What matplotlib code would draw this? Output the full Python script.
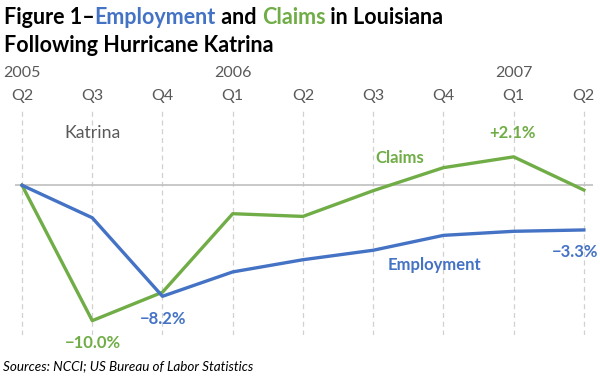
import matplotlib.pyplot as plt
import numpy as np

quarters = ["Q2", "Q3", "Q4", "Q1", "Q2", "Q3", "Q4", "Q1", "Q2"]
years = {0: "2005", 3: "2006", 7: "2007"}
employment = [0.0, -2.4, -8.2, -6.4, -5.5, -4.8, -3.7, -3.4, -3.3]
claims = [0.0, -10.0, -7.9, -2.1, -2.3, -0.4, 1.3, 2.1, -0.35]

BLUE = "#4472C4"
GREEN = "#70AD47"
GRAY = "#595959"
plt.rcParams['font.family'] = ['Lato', 'DejaVu Sans']

fig = plt.figure(figsize=(6, 3.76), dpi=100)
ax = fig.add_axes([15/600, 41/376, 578/600, 225/376])
x = np.arange(len(quarters))

for xi in x:
    ax.axvline(xi, color="#d0d0d0", lw=0.9, ls=(0, (4, 3)), zorder=1)
ax.axhline(0, color="#bfbfbf", lw=1.2, zorder=1)

ax.plot(x, claims, color=GREEN, lw=2.4, zorder=3)
ax.plot(x, employment, color=BLUE, lw=2.4, zorder=3)

ax.set_xlim(-0.1, 8.13)
ax.set_ylim(-11.06, 5.56)
ax.axis("off")

# quarter / year labels along the top
tr = ax.get_xaxis_transform()
for i, q in enumerate(quarters):
    ax.annotate(q, xy=(i, 1), xycoords=tr, xytext=(0, 10), textcoords="offset points",
                ha="center", va="center", fontsize=11.5, color=GRAY, annotation_clip=False)
for i, yr in years.items():
    ax.annotate(yr, xy=(i, 1), xycoords=tr, xytext=(0, 26.6), textcoords="offset points",
                ha="center", va="center", fontsize=11.5, color=GRAY, annotation_clip=False)

ax.text(0.6, 3.85, "Katrina", ha="left", va="center", fontsize=12.7, color=GRAY)
ax.text(5.38, 2.0, "Claims", ha="center", va="center", fontsize=12, color=GREEN, fontweight="bold")
ax.text(5.87, -5.9, "Employment", ha="center", va="center", fontsize=12, color=BLUE, fontweight="bold")
ax.text(6.99, 3.85, "+2.1%", ha="center", va="center", fontsize=12, color=GREEN, fontweight="bold")
ax.text(1.01, -11.65, "\u221210.0%", ha="center", va="center", fontsize=12, color=GREEN,
        fontweight="bold", clip_on=False)
ax.text(2.01, -9.87, "\u22128.2%", ha="center", va="center", fontsize=12, color=BLUE, fontweight="bold")
ax.text(7.87, -4.93, "\u22123.3%", ha="center", va="center", fontsize=12, color=BLUE, fontweight="bold")

# title in coloured pieces
t1 = fig.text(4/600, 1 - 18/376, "Figure 1\u2013", fontsize=15.5, fontweight="bold", va="center", color="black")
parts = [("Employment", BLUE), (" and ", "black"), ("Claims", GREEN), (" in Louisiana", "black")]
prev = t1
for s, c in parts:
    prev = ax.annotate(s, xy=(1, 0), xycoords=prev, va="bottom", ha="left",
                       fontsize=15.5, fontweight="bold", color=c, annotation_clip=False)
fig.text(4/600, 1 - 45/376, "Following Hurricane Katrina", fontsize=15.5, fontweight="bold",
         va="center", color="black")

fig.text(3/600, 1 - 366/376, "Sources: NCCI; US Bureau of Labor Statistics", fontsize=9.7,
         style="italic", va="center", color="black")

fig.savefig("out.png", dpi=100)
